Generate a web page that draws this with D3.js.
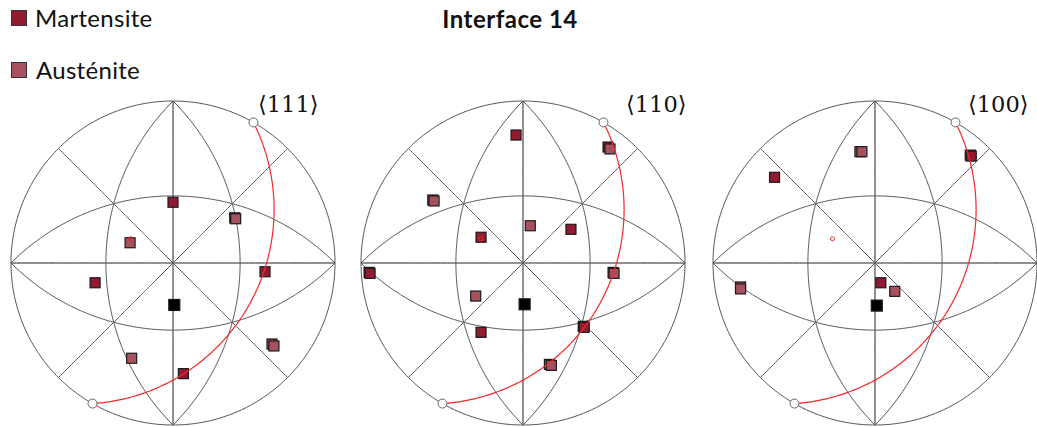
<!DOCTYPE html>
<html>
<head>
<meta charset="utf-8">
<script src="https://cdn.jsdelivr.net/npm/d3@7"></script>
<style>
  html, body { margin: 0; padding: 0; background: #fff; }
  svg { display: block; }
</style>
</head>
<body>
<svg id="chart" width="1037" height="427"></svg>
<script>
// Stereographic pole figures of interface 14, coordinates in the unit disk (y up).
const panelLabels = ["\u27E8111\u27E9", "\u27E8110\u27E9", "\u27E8100\u27E9"];

const martensite111 = [[0.000, 0.375], [-0.481, -0.122], [0.568, -0.054], [0.064, -0.683]];
const austenite111 = [[0.381, 0.279], [0.387, 0.273], [-0.265, 0.125], [0.611, -0.500], [0.623, -0.512], [-0.255, -0.588]];
const reference111 = [[0.008, -0.259]];

const martensite110 = [[-0.043, 0.790], [0.525, 0.716], [0.296, 0.208], [-0.259, 0.159], [-0.950, -0.058], [-0.944, -0.064], [-0.259, -0.428], [0.372, -0.391], [0.378, -0.397]];
const austenite110 = [[0.537, 0.704], [-0.557, 0.389], [-0.549, 0.383], [0.045, 0.230], [0.556, -0.058], [0.562, -0.064], [-0.292, -0.204], [0.163, -0.626], [0.175, -0.632]];
const reference110 = [[0.010, -0.255]];

const martensite100 = [[0.588, 0.666], [0.594, 0.660], [-0.620, 0.529], [0.036, -0.122]];
const austenite100 = [[-0.093, 0.687], [-0.081, 0.687], [-0.830, -0.148], [-0.830, -0.160], [0.122, -0.175]];
const reference100 = [[0.011, -0.263]];

// Projected pole of the habit-plane trace (same in every panel)
const tracePole = [-0.262, 0.150];

// Net: {100} and {110} traces of the cubic standard projection, as plane normals
const netPoles = [
  [1, 0, 0], [0, 1, 0], [1, 1, 0], [1, -1, 0],
  [1, 0, 1], [1, 0, -1], [0, 1, 1], [0, 1, -1]
];

const seriesNames = ["Martensite", "Aust\u00E9nite"];
const seriesColors = ["#921b31", "#a8515e"];

const panelCenters = [[173, 263], [523, 263], [875, 263]];
const radius = 162;
const labelX = [258, 626, 968];

const panels = [
  { label: panelLabels[0], m: martensite111, a: austenite111, ref: reference111 },
  { label: panelLabels[1], m: martensite110, a: austenite110, ref: reference110 },
  { label: panelLabels[2], m: martensite100, a: austenite100, ref: reference100 }
];

const svg = d3.select("#chart");

// vector helpers
const cross = (u, v) => [u[1]*v[2]-u[2]*v[1], u[2]*v[0]-u[0]*v[2], u[0]*v[1]-u[1]*v[0]];
const norm = u => { const l = Math.hypot(...u); return u.map(c => c / l); };
const project = v => [v[0] / (1 + v[2]), v[1] / (1 + v[2])];
const unproject = ([X, Y]) => { const p2 = X*X + Y*Y; return [2*X/(1+p2), 2*Y/(1+p2), (1-p2)/(1+p2)]; };

// Upper-hemisphere half of the great circle normal to n, projected
function greatCircle(n) {
  n = norm(n);
  const a = norm(cross(n, [0, 0, 1]));
  let b = cross(n, a);
  if (b[2] < 0) b = b.map(c => -c);
  const pts = d3.range(0, 181).map(i => {
    const t = Math.PI * i / 180;
    return project([0, 1, 2].map(k => Math.cos(t) * a[k] + Math.sin(t) * b[k]));
  });
  return { pts, ends: [project(a), project(a.map(c => -c))] };
}

panels.forEach((p, i) => {
  const [cx, cy] = panelCenters[i];
  const x = d3.scaleLinear().domain([-1, 1]).range([cx - radius, cx + radius]);
  const y = d3.scaleLinear().domain([-1, 1]).range([cy + radius, cy - radius]);
  const line = d3.line().x(d => x(d[0])).y(d => y(d[1]));
  const g = svg.append("g");

  // primitive circle
  g.append("path")
    .attr("d", line(d3.range(0, 361).map(k => [Math.cos(k * Math.PI / 180), Math.sin(k * Math.PI / 180)])))
    .attr("fill", "none").attr("stroke", "#555").attr("stroke-width", 1);

  netPoles.forEach((n, j) => {
    g.append("path")
      .attr("d", line(greatCircle(n).pts))
      .attr("fill", "none")
      .attr("stroke", j < 2 ? "#1a1a1a" : "#555")
      .attr("stroke-width", 1);
  });

  const sq = (data, fill, size) => {
    g.selectAll(null).data(data).enter().append("rect")
      .attr("x", d => x(d[0]) - size / 2)
      .attr("y", d => y(d[1]) - size / 2)
      .attr("width", size).attr("height", size)
      .attr("fill", fill)
      .attr("stroke", "#1a1a1a").attr("stroke-width", 1.2);
  };
  sq(p.m, seriesColors[0], 10);
  sq(p.a, seriesColors[1], 10);
  sq(p.ref, "#000", 11);

  // habit-plane trace and its pole
  const tr = greatCircle(unproject(tracePole));
  g.append("path")
    .attr("d", line(tr.pts))
    .attr("fill", "none").attr("stroke", "#f22a2a").attr("stroke-width", 1.2);
  g.append("circle")
    .attr("cx", x(tracePole[0])).attr("cy", y(tracePole[1])).attr("r", 2)
    .attr("fill", "none").attr("stroke", "#f22a2a").attr("stroke-width", 1);
  g.selectAll(null).data(tr.ends).enter().append("circle")
    .attr("cx", d => x(d[0])).attr("cy", d => y(d[1])).attr("r", 4.5)
    .attr("fill", "#fff").attr("stroke", "#666").attr("stroke-width", 1);

  g.append("text")
    .attr("x", labelX[i]).attr("y", 112)
    .attr("font-family", "'DejaVu Serif', 'Liberation Serif', serif")
    .attr("font-size", 22.5)
    .attr("fill", "#111")
    .text(p.label);
});

// title
svg.append("text")
  .attr("x", 510).attr("y", 28)
  .attr("text-anchor", "middle")
  .attr("font-family", "Lato, 'Open Sans', sans-serif")
  .attr("font-weight", "bold")
  .attr("font-size", 24)
  .attr("letter-spacing", 0.5)
  .attr("fill", "#111")
  .text("Interface 14");

// legend
const legend = svg.append("g");
seriesNames.forEach((name, i) => {
  const ly = 10 + i * 52;
  legend.append("rect")
    .attr("x", 11.5).attr("y", ly + 0.5).attr("width", 15).attr("height", 15)
    .attr("fill", seriesColors[i]).attr("stroke", "#333").attr("stroke-width", 1);
  legend.append("text")
    .attr("x", 35 + i).attr("y", ly + 17)
    .attr("font-family", "Lato, 'Open Sans', sans-serif")
    .attr("font-size", 24)
    .attr("letter-spacing", 0.3)
    .attr("fill", "#111")
    .text(name);
});
</script>
</body>
</html>
